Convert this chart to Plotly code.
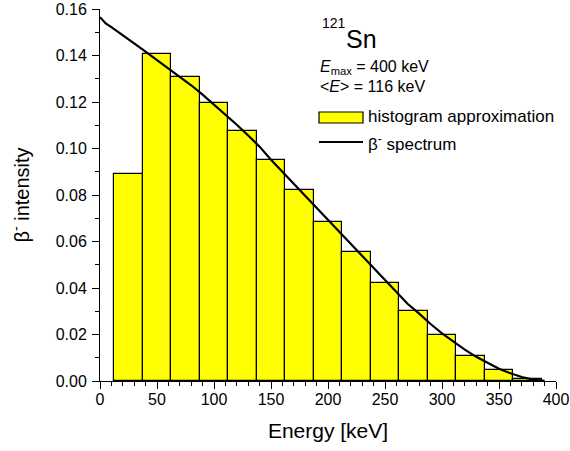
import plotly.graph_objects as go

# Histogram bins (keV, bin centres) and their intensities
bin_centers = [25, 50, 75, 100, 125, 150, 175, 200, 225, 250, 275, 300, 325, 350, 375]
bin_heights = [0.089, 0.1408, 0.1309, 0.1197, 0.1077, 0.0951, 0.0820, 0.0685,
               0.0553, 0.0423, 0.0302, 0.0198, 0.0109, 0.0049, 0.0010]
bin_width = 25

# Continuous beta- spectrum
spec_energy = [0, 5, 10, 20, 30, 40, 50, 60, 70, 80, 90, 100, 110, 120, 130, 140,
               150, 160, 170, 180, 190, 200, 210, 220, 230, 240, 250, 260, 270, 280,
               290, 300, 310, 320, 330, 340, 350, 360, 370, 380, 390]
spec_intensity = [0.1565, 0.1538, 0.1522, 0.1488, 0.1453, 0.1417, 0.1380, 0.1345,
                  0.1310, 0.1272, 0.1232, 0.1190, 0.1147, 0.1102, 0.1056, 0.1008,
                  0.0952, 0.0900, 0.0848, 0.0796, 0.0744, 0.0692, 0.0640, 0.0588,
                  0.0536, 0.0484, 0.0432, 0.0380, 0.0331, 0.0290, 0.0245, 0.0205,
                  0.0168, 0.0135, 0.0104, 0.0077, 0.0053, 0.0033, 0.0017, 0.0006,
                  0.0001]

W, H = 570, 451
L, R, T, B = 100, 14, 9, 70
FONT = "Liberation Sans, Arial, sans-serif"


def px(x):
    return (x - L) / (W - L - R)


def py(y):
    return (H - B - y) / (H - T - B)


fig = go.Figure()
fig.add_trace(go.Bar(
    x=bin_centers, y=bin_heights, width=bin_width,
    marker=dict(color="#FFFF00", line=dict(color="black", width=1.2)),
    showlegend=False,
))
fig.add_trace(go.Scatter(
    x=spec_energy, y=spec_intensity, mode="lines",
    line=dict(color="black", width=2.2), showlegend=False,
))

axis_common = dict(
    showline=True, linecolor="black", linewidth=1,
    ticks="outside", ticklen=7, tickwidth=1, tickcolor="black",
    showgrid=False, zeroline=False, mirror=False,
    tickfont=dict(family=FONT, size=16, color="black"),
)

fig.update_xaxes(
    range=[0, 400], dtick=50, tick0=0, ticklabelstandoff=-3,
    minor=dict(dtick=10, ticklen=4, ticks="outside", tickcolor="black", showgrid=False),
    title=dict(text="Energy [keV]", font=dict(family=FONT, size=21, color="black"), standoff=16),
    **axis_common,
)
fig.update_yaxes(
    range=[0, 0.16], dtick=0.02, tick0=0, tickformat=".2f", ticklabelstandoff=2,
    minor=dict(dtick=0.01, ticklen=4, ticks="outside", tickcolor="black", showgrid=False),
    title=dict(text="β<sup>-</sup> intensity", font=dict(family=FONT, size=20, color="black"), standoff=20),
    **axis_common,
)

ann = []
def text(x, y, s, size):
    ann.append(dict(xref="paper", yref="paper", x=px(x), y=py(y), text=s,
                    showarrow=False, xanchor="left", yanchor="middle",
                    font=dict(family=FONT, size=size, color="black")))

text(320, 23, "121", 14)
text(344, 39, "Sn", 25)
text(318, 68, "<i>E</i><sub>max</sub> = 400 keV", 16)
text(318, 86, "&lt;<i>E</i>&gt; = 116 keV", 16)
text(366, 117, "histogram approximation", 17)
text(366, 143, "β<sup>-</sup> spectrum", 17)

shapes = [
    dict(type="rect", xref="paper", yref="paper", x0=px(319), x1=px(363), y0=py(123), y1=py(112),
         fillcolor="#FFFF00", line=dict(color="black", width=1.2)),
    dict(type="line", xref="paper", yref="paper", x0=px(319), x1=px(363), y0=py(142), y1=py(142),
         line=dict(color="black", width=2.2)),
]

fig.update_layout(
    width=W, height=H,
    margin=dict(l=L, r=R, t=T, b=B, autoexpand=False),
    plot_bgcolor="white", paper_bgcolor="white",
    bargap=0, annotations=ann, shapes=shapes,
    font=dict(family=FONT, color="black"),
)

fig.write_html("out.html")
